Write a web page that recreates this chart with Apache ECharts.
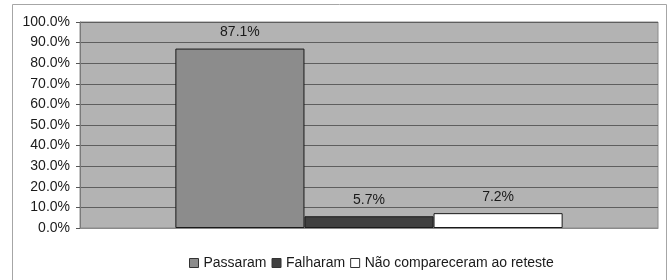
<!DOCTYPE html>
<html>
<head>
<meta charset="utf-8">
<script src="https://cdn.jsdelivr.net/npm/echarts@6/dist/echarts.min.js"></script>
<style>
    html, body { margin: 0; padding: 0; background: #fff; }
    #chart { width: 672px; height: 280px; }
</style>
</head>
<body>
<div id="chart"></div>
<script>
const categories = [''];
const seriesNames = ['Passaram', 'Falharam', 'Não compareceram ao reteste'];
const seriesValues = [87.1, 5.7, 7.2];
const seriesColors = ['#8c8c8c', '#404040', '#ffffff'];

const chart = echarts.init(document.getElementById('chart'));

const series = seriesNames.map((name, i) => ({
    name,
    type: 'bar',
    data: [seriesValues[i]],
    barGap: '0%',
    barCategoryGap: '33%',
    itemStyle: {
        color: seriesColors[i],
        borderColor: '#1a1a1a',
        borderWidth: 1,
    },
    label: {
        show: true,
        position: 'top',
        distance: 9,
        fontFamily: 'Liberation Sans',
        fontSize: 14,
        color: '#1a1a1a',
        formatter: (p) => p.value.toFixed(1) + '%',
    },
}));

const option = {
    animation: false,
    backgroundColor: '#ffffff',
    textStyle: { fontFamily: 'Liberation Sans' },
    graphic: [{
        type: 'rect',
        shape: { x: 12.5, y: 4.5, width: 654, height: 300 },
        style: { fill: 'none', stroke: '#a6a6a6', lineWidth: 1 },
        silent: true,
        z: -1,
    }],
    grid: {
        left: 80,
        right: 14,
        top: 22,
        bottom: 52,
        show: true,
        backgroundColor: '#b3b3b3',
        borderColor: '#8a8a8a',
        borderWidth: 1,
    },
    legend: {
        bottom: 5,
        left: 184,
        itemWidth: 9,
        itemHeight: 9,
        itemGap: 5,
        icon: 'rect',
        textStyle: { fontSize: 14, color: '#1a1a1a', fontFamily: 'Liberation Sans' },
        data: seriesNames.map((name, i) => ({
            name,
            itemStyle: { color: seriesColors[i], borderColor: '#333', borderWidth: 1 },
        })),
    },
    xAxis: {
        type: 'category',
        data: categories,
        axisLine: { show: true, lineStyle: { color: '#8a8a8a' } },
        axisTick: { show: false },
        axisLabel: { show: false },
    },
    yAxis: {
        type: 'value',
        min: 0,
        max: 100,
        interval: 10,
        axisLine: { show: true, lineStyle: { color: '#7a7a7a' } },
        axisTick: { show: true, length: 4, lineStyle: { color: '#555' } },
        axisLabel: {
            fontSize: 14,
            color: '#1a1a1a',
            margin: 10,
            formatter: (v) => v.toFixed(1) + '%',
        },
        splitLine: { lineStyle: { color: '#5e5e5e', width: 1 } },
    },
    series,
};

chart.setOption(option);
</script>
</body>
</html>
